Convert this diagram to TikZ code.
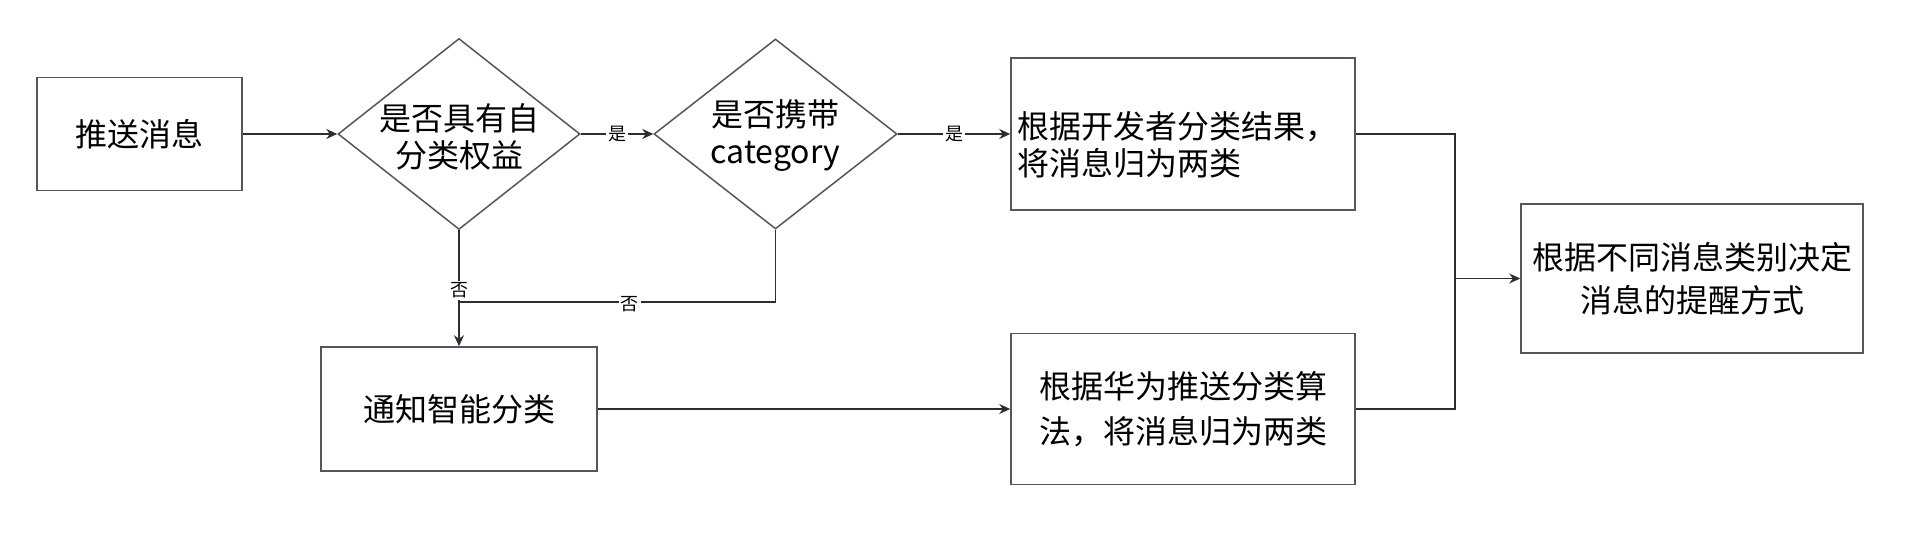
\documentclass[tikz,border=0pt]{standalone}
\usepackage{fontspec}
\newfontfamily\cjk{Noto Sans CJK SC}
\usepackage{xcolor}
\definecolor{mygray}{RGB}{85,85,95}
\definecolor{myline}{RGB}{45,45,45}
\usetikzlibrary{shapes.geometric}
\usetikzlibrary{arrows.meta}

\begin{document}
\begin{tikzpicture}[x=0.5pt,y=-0.5pt]
	\tikzstyle{kuang}=[draw=mygray,line width=0.75pt,rectangle,inner sep=0pt,font=\cjk\fontsize{16pt}{19pt}\selectfont,align=center];
	\tikzstyle{ling}=[draw=mygray,line width=0.75pt,diamond,inner sep=0pt];
	\tikzstyle{wen}=[font=\cjk\fontsize{16pt}{18.5pt}\selectfont,align=center,inner sep=0pt];
	\tikzstyle{xiao}=[font=\cjk\fontsize{9pt}{10pt}\selectfont,fill=white,inner sep=1pt];
	\tikzstyle{jian}=[draw=myline,line width=0.75pt,-{Stealth[length=5.5pt,width=5pt]}];
	\tikzstyle{xian}=[draw=myline,line width=0.75pt];
	\useasboundingbox (0,0) rectangle (1918,533);
	\coordinate (P)    at (139.5,134);
	\coordinate (Q1)   at (459,134);
	\coordinate (Q2)   at (775.5,134);
	\coordinate (D)    at (1183,134);
	\coordinate (H)    at (1183,409);
	\coordinate (S)    at (459,409);
	\coordinate (F)    at (1692,278.5);
	\coordinate (jn)   at (1455,278.5);
	\coordinate (nojn) at (459,302);
	%% Nodes
	\node[kuang,minimum width=102.5pt,minimum height=56.5pt] (push) at (P) {推送消息};
	\node[ling,minimum width=121pt,minimum height=95.5pt] (q1) at (Q1) {};
	\node[wen] (q1txt) at (459,137) {是否具有自\\分类权益};
	\node[ling,minimum width=121.5pt,minimum height=95pt] (q2) at (Q2) {};
	\node[wen] (q2txt) at (775.5,136) {是否携带\\category};
	\node[kuang,minimum width=172pt,minimum height=76pt] (dev) at (D) {};
	\node[wen,align=left,anchor=west] (devtxt) at (1017,145) {根据开发者分类结果，\\将消息归为两类};
	\node[kuang,minimum width=172pt,minimum height=75.5pt,font=\cjk\fontsize{16pt}{22.5pt}\selectfont] (hw) at (H) {根据华为推送分类算\\法，将消息归为两类};
	\node[kuang,minimum width=138pt,minimum height=62pt] (smart) at (S) {通知智能分类};
	\node[kuang,minimum width=171pt,minimum height=74.5pt,font=\cjk\fontsize{16pt}{21.5pt}\selectfont] (final) at (F) {根据不同消息类别决定\\消息的提醒方式};
	%%
	\draw[jian] (push) -- (q1);
	\draw[jian] (q1) -- node[xiao]{是} (q2);
	\draw[jian] (q2) -- node[xiao]{是} (dev);
	\draw[xian] (q2.south) |- node[xiao,pos=0.73,yshift=-1pt]{否} (nojn);
	\draw[jian,line width=1pt] (q1) -- node[xiao,pos=0.52]{否} (smart);
	\draw[jian] (smart) -- (hw);
	%%
	\draw[xian] (dev) -| (jn);
	\draw[xian] (hw) -| (jn);
	\draw[jian] (jn) -- (final);
\end{tikzpicture}
\end{document}
